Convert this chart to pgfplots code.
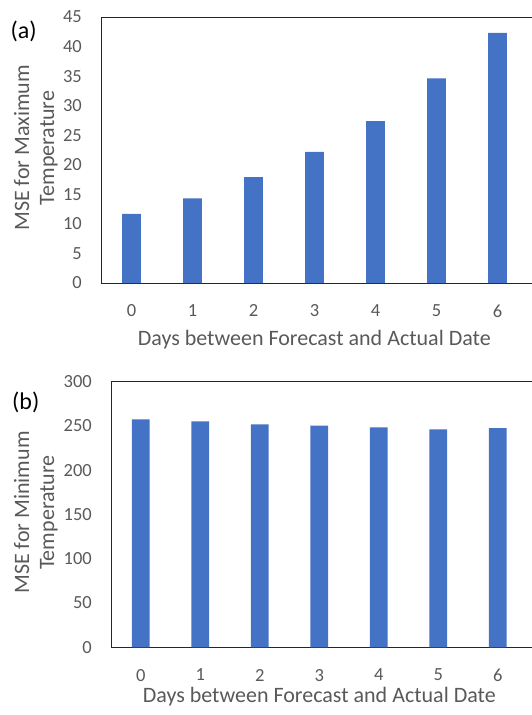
\documentclass[border=0pt]{standalone}
\usepackage{pgfplots}
\pgfplotsset{compat=1.18}
\usepackage{fontspec}
\setmainfont{Carlito}
\definecolor{barblue}{HTML}{4472C4}
\definecolor{txtgray}{HTML}{595959}
\pgfplotsset{
  mystyle/.style={
    scale only axis,
    anchor=south west,
    xmin=-0.5, xmax=6.6,
    ymin=0,
    xtick={0,1,2,3,4,5,6},
    tick style={draw=none},
    axis line style={black!85, line width=1pt},
    /pgf/number format/assume math mode=true,
    ticklabel style={font=\fontsize{18.5}{22}\selectfont, text=txtgray},
    yticklabel style={anchor=east, inner sep=0pt, xshift=-19pt},
    xticklabel style={anchor=north, inner sep=0pt, yshift=-21.5pt},
    clip=false,
  },
}
\begin{document}
\begin{tikzpicture}[x=1pt,y=1pt]
\useasboundingbox (0,0) rectangle (531,-715);
% panel (a)
\begin{axis}[mystyle, at={(101pt,-283pt)}, width=433.1pt, height=266pt,
  ymax=45, ytick={0,5,...,45}]
\addplot[ybar, bar width=0.31, fill=barblue, draw=none]
  coordinates {(0,11.7) (1,14.3) (2,17.9) (3,22.2) (4,27.4) (5,34.6) (6,42.3)};
\end{axis}
% panel (b)
\begin{axis}[mystyle, at={(111pt,-647.3pt)}, width=422.5pt, height=265.6pt,
  ymax=300, ytick={0,50,...,300}]
\addplot[ybar, bar width=0.30, fill=barblue, draw=none]
  coordinates {(0,257.5) (1,255.3) (2,251.9) (3,250.3) (4,248.5) (5,246.2) (6,247.7)};
\end{axis}
% labels
\begin{scope}[every node/.style={font=\fontsize{22}{26}\selectfont, text=txtgray, inner sep=0pt}]
\node[anchor=base] at (314.3,-345.7) {Days between Forecast and Actual Date};
\node[anchor=base] at (319.3,-702) {Days between Forecast and Actual Date};
\node[anchor=base, rotate=90] at (29,-148) {MSE for Maximum};
\node[anchor=base, rotate=90] at (54,-148) {Temperature};
\node[anchor=base, rotate=90] at (29,-512.5) {MSE for Minimum};
\node[anchor=base, rotate=90] at (54,-512.5) {Temperature};
\node[anchor=base west, text=black, font=\fontsize{24}{28}\selectfont] at (10.5,-38) {(a)};
\node[anchor=base west, text=black, font=\fontsize{24}{28}\selectfont] at (12,-409.5) {(b)};
\end{scope}
\end{tikzpicture}
\end{document}
